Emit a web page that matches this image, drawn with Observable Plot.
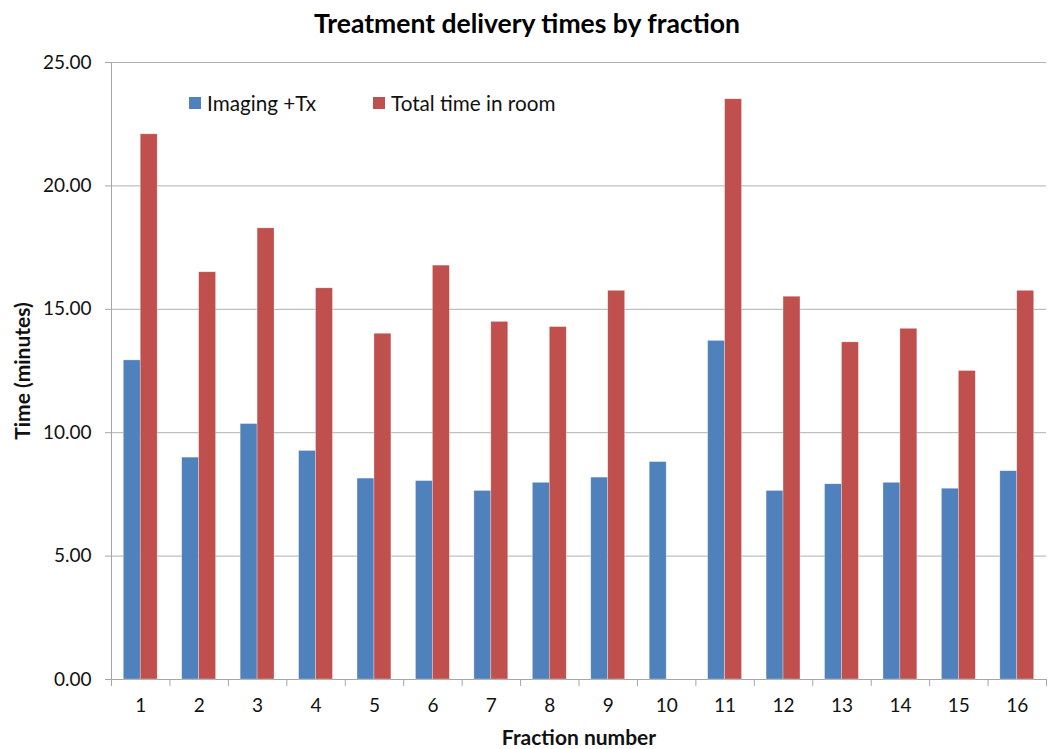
<!DOCTYPE html>
<html><head><meta charset="utf-8">
<script src="https://cdn.jsdelivr.net/npm/d3@7"></script>
<script src="https://cdn.jsdelivr.net/npm/@observablehq/plot@0.6"></script>
<style>
body{margin:0;background:#fff;font-family:Lato,"Open Sans",sans-serif;}
#wrap{position:relative;width:1054px;height:749px;}
#title{height:45px;line-height:46px;text-align:center;font-weight:bold;font-size:26.5px;color:#000;}
#legend{position:absolute;top:91px;left:189px;font-size:20.7px;color:#111;display:flex;}
.item{display:flex;align-items:center;}
.sw{width:12px;height:12px;margin-right:6px;}
svg [aria-label="x-axis label"] text, svg [aria-label="y-axis label"] text{font-weight:bold;font-size:21px;}
</style></head>
<body>
<div id="wrap">
<div id="title">Treatment delivery times by fraction</div>
<div id="chart"></div>
<div id="legend"></div>
</div>
<script>
const fractions = [1,2,3,4,5,6,7,8,9,10,11,12,13,14,15,16];
const imaging = [12.93, 8.99, 10.35, 9.26, 8.14, 8.04, 7.64, 7.97, 8.18, 8.81, 13.72, 7.64, 7.91, 7.97, 7.73, 8.44];
const totalRoom = [22.09, 16.50, 18.28, 15.85, 14.01, 16.77, 14.49, 14.28, 15.75, null, 23.51, 15.51, 13.66, 14.21, 12.50, 15.75];
const seriesNames = ["Imaging +Tx", "Total time in room"];
const seriesColors = ["#4f81bd", "#c0504d"];
const yTicks = [0, 5, 10, 15, 20, 25];

const barW = 0.29;
const rows = [];
fractions.forEach((f, i) => {
  rows.push({f, v: imaging[i], s: seriesNames[0], x1: f - barW, x2: f});
  if (totalRoom[i] != null) rows.push({f, v: totalRoom[i], s: seriesNames[1], x1: f, x2: f + barW});
});
const boundaries = fractions.map(f => f - 0.5).concat([fractions[fractions.length - 1] + 0.5]);

const chart = Plot.plot({
  width: 1054,
  height: 704,
  marginTop: 17,
  marginBottom: 70,
  marginLeft: 111,
  marginRight: 8,
  style: {fontFamily: "Lato, 'Open Sans', sans-serif", fontSize: "19px", color: "#111", background: "#fff"},
  x: {type: "linear", domain: [0.5, 16.5]},
  y: {domain: [0, 25]},
  color: {domain: seriesNames, range: seriesColors},
  marks: [
    Plot.gridY(yTicks.filter(t => t > 0), {stroke: "#b0b0b0", strokeOpacity: 1}),
    Plot.frame({anchor: "left", stroke: "#a6a6a6"}),
    Plot.frame({anchor: "bottom", stroke: "#a6a6a6"}),
    Plot.rectY(rows, {x1: "x1", x2: "x2", y: "v", fill: "s", stroke: "#ffffff", strokeOpacity: 0.5, strokeWidth: 0.6}),
    Plot.axisY(yTicks, {tickFormat: d => d.toFixed(2), tickSize: 6, tickPadding: 14, stroke: "#a6a6a6", fontSize: 19,
      label: "Time (minutes)", labelAnchor: "center", labelArrow: "none", labelOffset: 96}),
    Plot.axisX(boundaries, {tickSize: 7, tickFormat: () => "", stroke: "#a6a6a6", label: null}),
    Plot.axisX(fractions, {tickSize: 0, tickPadding: 19, fontSize: 19,
      label: "Fraction number", labelAnchor: "center", labelArrow: "none", labelOffset: 65})
  ]
});
document.getElementById("chart").appendChild(chart);

const legend = document.getElementById("legend");
seriesNames.forEach((n, i) => {
  const it = document.createElement("div");
  it.className = "item";
  it.style.marginRight = i === 0 ? "57px" : "0";
  const sw = document.createElement("div");
  sw.className = "sw";
  sw.style.background = seriesColors[i];
  const t = document.createElement("span");
  t.textContent = n;
  it.appendChild(sw); it.appendChild(t);
  legend.appendChild(it);
});
</script>
</body></html>
